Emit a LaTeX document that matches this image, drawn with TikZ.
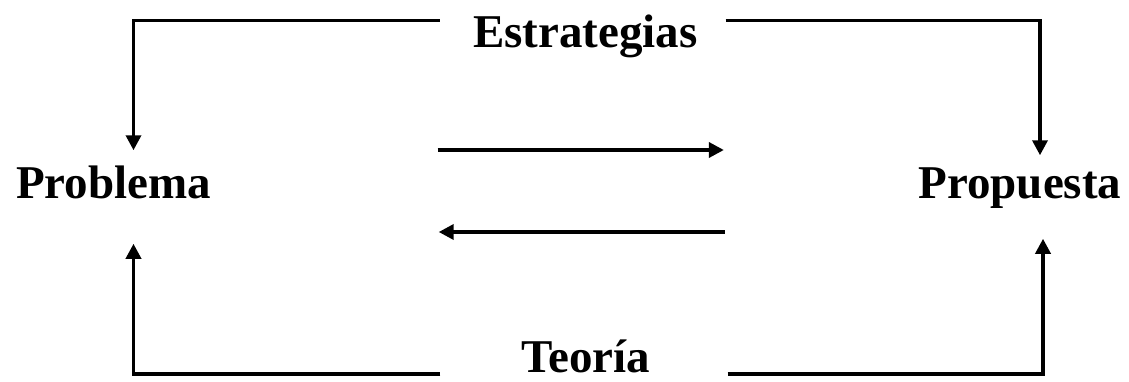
\documentclass[tikz,border=0pt]{standalone}
\usepackage{fontspec}
\setmainfont{Liberation Serif}
\usepackage{xcolor}
\usetikzlibrary{arrows.meta}

\begin{document}
\begin{tikzpicture}[x=1pt,y=-1pt,line width=3.5pt,
	>={Triangle[length=15pt,width=15pt]},
	lbl/.style={inner sep=0pt,anchor=base,text height=33pt,text depth=10pt,
		font=\fontsize{47}{56}\selectfont\bfseries}]
	\useasboundingbox (0,0) rectangle (1129,381);
	\node[lbl] at (113.5,198) (1) {Problema};
	\node[lbl] at (1020,198) (2) {Propuesta};
	\node[lbl] at (585.5,47) (3) {Estrategias};
	\node[lbl,text depth=0pt] at (585.5,372) (4) {Teoría};
	\draw [->] ([xshift=-32pt,yshift=15pt]3.west) -| ([xshift=20pt,yshift=13pt]1.north);
	\draw [->] ([xshift=26pt,yshift=15pt]3.east) -| ([xshift=20pt,yshift=8pt]2.north);
	\draw [->] ([xshift=-79pt,yshift=-18.5pt]4.west) -| ([xshift=20pt,yshift=-34pt]1.south);
	\draw [->] ([xshift=76pt,yshift=-18.5pt]4.east) -| ([xshift=23pt,yshift=-29pt]2.south);
	\draw [->] ([xshift=225pt,yshift=36.5pt]1.east) -- ([xshift=-193pt,yshift=36.5pt]2.west);
	\draw [->] ([xshift=-192pt,yshift=-45.5pt]2.west) -- ([xshift=226pt,yshift=-45.5pt]1.east);
\end{tikzpicture}
\end{document}
